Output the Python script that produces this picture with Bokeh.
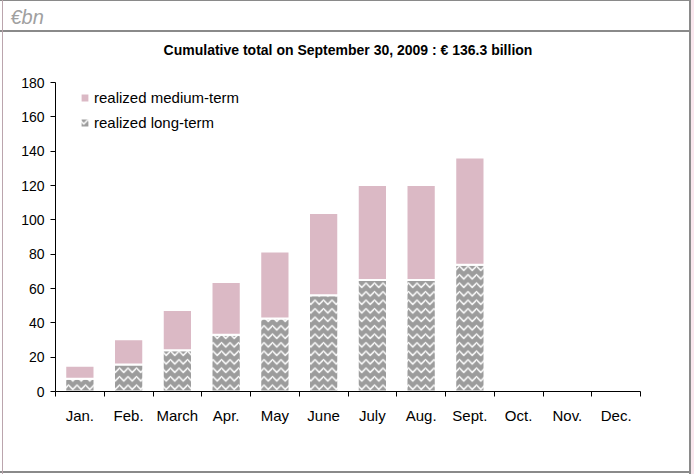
from bokeh.plotting import figure
from bokeh.models import Range1d, FixedTicker, Legend, LegendItem, Title
from bokeh.embed import file_html
from bokeh.resources import INLINE

# ---- data ----
months = ["Jan.", "Feb.", "March", "Apr.", "May", "June", "July", "Aug.",
          "Sept.", "Oct.", "Nov.", "Dec."]
long_term = [7.5, 15.7, 24.0, 33.0, 42.5, 56.0, 65.0, 65.0, 73.8]
medium_term = [7.5, 14.8, 23.5, 30.8, 39.0, 48.0, 55.3, 55.3, 62.5]
y_ticks = [0, 20, 40, 60, 80, 100, 120, 140, 160, 180]
title_text = "Cumulative total on September 30, 2009 : \u20ac 136.3 billion"
unit_text = "\u20acbn"
series_names = ["realized medium-term", "realized long-term"]

FONT = "Liberation Sans"
PINK = "#dbb9c5"
GRAY = "#9c9c9c"
LINE = "#8a8a8a"

n = len(long_term)
xs = list(range(n))
cum = [a + b for a, b in zip(long_term, medium_term)]

# panel frame lines drawn as CSS backgrounds behind a transparent canvas
frame_css = (
    "linear-gradient(to right, transparent 0px, transparent 2px, #bba5ad 2px, #bba5ad 3px, "
    "transparent 3px, transparent 689px, " + LINE + " 689px, " + LINE + " 691px, #f9e7ee 691px), "
    "linear-gradient(to bottom, " + LINE + " 0px, " + LINE + " 1px, transparent 1px, transparent 30px, "
    + LINE + " 30px, " + LINE + " 32px, transparent 32px, transparent 471px, "
    + LINE + " 471px, " + LINE + " 473px, transparent 473px), white"
)

p = figure(width=694, height=474,
           x_range=Range1d(-0.5, len(months) - 0.5), y_range=Range1d(0, 180),
           output_backend="svg", toolbar_location=None,
           min_border_left=55, min_border_right=54,
           min_border_top=0, min_border_bottom=83,
           styles={"background": frame_css})
p.grid.visible = False
p.outline_line_color = None
p.background_fill_color = "white"
p.border_fill_color = None

r_lt = p.vbar(x=xs, bottom=0, top=long_term, width=0.6,
              fill_color=GRAY, hatch_pattern="horizontal_wave",
              hatch_color="white", hatch_scale=8.5, hatch_weight=1.5,
              line_color="white", line_width=2)
r_mt = p.vbar(x=xs, bottom=long_term, top=cum, width=0.6,
              fill_color=PINK, line_color="white", line_width=2)

# x axis: labels at centres, ticks at category boundaries
xa = p.xaxis[0]
xa.ticker = FixedTicker(ticks=list(range(len(months))),
                        minor_ticks=[i - 0.5 for i in range(len(months) + 1)])
xa.major_label_overrides = {i: m for i, m in enumerate(months)}
xa.major_tick_out = 0
xa.major_tick_in = 0
xa.minor_tick_out = 5
xa.minor_tick_in = 0
xa.minor_tick_line_color = "black"
xa.axis_line_color = "black"
xa.major_label_standoff = 10
xa.major_label_text_font = FONT
xa.major_label_text_font_size = "15px"
xa.major_label_text_color = "black"

ya = p.yaxis[0]
ya.ticker = FixedTicker(ticks=y_ticks, minor_ticks=[])
ya.major_tick_out = 5
ya.major_tick_in = 0
ya.minor_tick_out = 0
ya.minor_tick_in = 0
ya.axis_line_color = "black"
ya.major_tick_line_color = "black"
ya.major_label_standoff = 6
ya.major_label_text_font = FONT
ya.major_label_text_font_size = "14px"
ya.major_label_text_color = "black"

legend = Legend(items=[LegendItem(label=series_names[0], renderers=[r_mt]),
                       LegendItem(label=series_names[1], renderers=[r_lt])],
                location=(24, 256), orientation="vertical",
                glyph_width=11, glyph_height=11, label_standoff=4,
                label_height=25, spacing=0, padding=0, margin=0,
                label_text_font=FONT, label_text_font_size="15px",
                label_text_color="black",
                border_line_color=None, background_fill_alpha=0)
p.add_layout(legend)

# panels above the frame, stacked outward: spacer, chart title, unit label
p.add_layout(Title(text=" ", text_font_size="1px", standoff=18), "above")
p.add_layout(Title(text=title_text, align="center", text_font=FONT,
                   text_font_size="14px", text_font_style="bold",
                   text_color="black", standoff=8), "above")
p.title.text = unit_text
p.title.align = "left"
p.title.offset = -45
p.title.vertical_align = "top"
p.title.standoff = 11
p.title.text_font = FONT
p.title.text_font_size = "20px"
p.title.text_font_style = "italic"
p.title.text_color = "#a0a0a0"

html = file_html(p, INLINE)
open("out.html", "w").write(html)
